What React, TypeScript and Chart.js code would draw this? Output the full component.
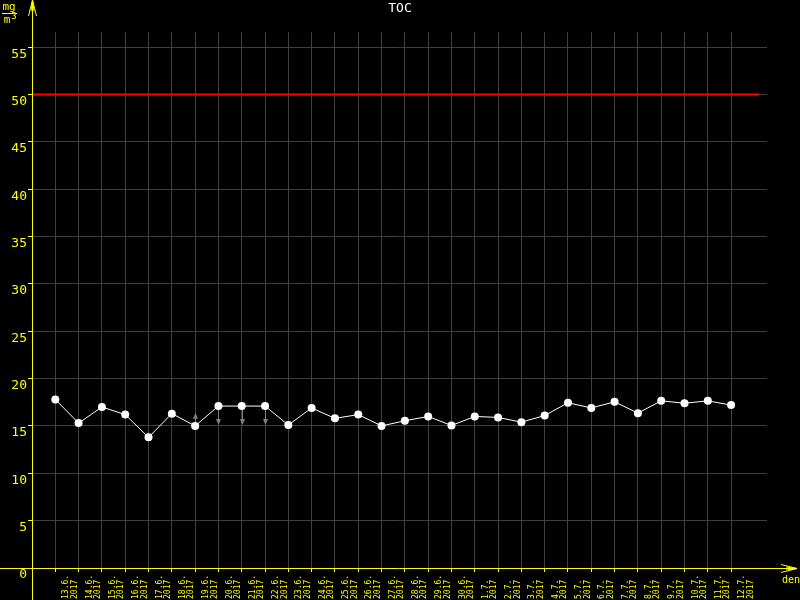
import React, { useEffect, useRef } from "react";
import { Chart, registerables } from "chart.js";

Chart.register(...registerables);

// ---- data ----
const dates = [
  "13.6.", "14.6.", "15.6.", "16.6.", "17.6.", "18.6.", "19.6.", "20.6.", "21.6.", "22.6.",
  "23.6.", "24.6.", "25.6.", "26.6.", "27.6.", "28.6.", "29.6.", "30.6.", "1.7.", "2.7.",
  "3.7.", "4.7.", "5.7.", "6.7.", "7.7.", "8.7.", "9.7.", "10.7.", "11.7.", "12.7.",
];
const year = "2017";
const tocValues = [
  17.8, 15.3, 17.0, 16.2, 13.8, 16.3, 15.0, 17.1, 17.1, 17.1,
  15.1, 16.9, 15.8, 16.2, 15.0, 15.55, 16.0, 15.05, 16.0, 15.9,
  15.4, 16.1, 17.45, 16.9, 17.55, 16.35, 17.65, 17.4, 17.65, 17.2,
];
const limitValue = 50;
const limitRange = [-1, 30.2];
const yTicks = [0, 5, 10, 15, 20, 25, 30, 35, 40, 45, 50, 55];
const arrowIndex = [6, 7, 8, 9];
const arrowTo = [16.4, 15.1, 15.1, 15.1];
const title = "TOC";
const xUnit = "den";

const YELLOW = "#ffff00";
const GRID = "#404040";
const MONO = "'DejaVu Sans Mono', monospace";

const decorPlugin = {
  id: "decor",
  beforeDraw(chart: any) {
    const ctx = chart.ctx;
    ctx.save();
    ctx.fillStyle = "#000";
    ctx.fillRect(0, 0, chart.width, chart.height);
    ctx.restore();
  },
  beforeDatasetsDraw(chart: any) {
    const ctx = chart.ctx;
    const xs = chart.scales.x;
    const ys = chart.scales.y;
    ctx.save();
    ctx.strokeStyle = "#808080";
    ctx.fillStyle = "#808080";
    ctx.lineWidth = 1;
    arrowIndex.forEach((idx, k) => {
      const x = Math.round(xs.getPixelForValue(idx)) + 0.5;
      const y0 = ys.getPixelForValue(tocValues[idx]);
      const y1 = ys.getPixelForValue(arrowTo[k]);
      const dir = y1 < y0 ? -1 : 1;
      ctx.beginPath();
      ctx.moveTo(x, y0);
      ctx.lineTo(x, y1 - dir * 5);
      ctx.stroke();
      ctx.beginPath();
      ctx.moveTo(x, y1);
      ctx.lineTo(x - 2.5, y1 - dir * 6);
      ctx.lineTo(x + 2.5, y1 - dir * 6);
      ctx.closePath();
      ctx.fill();
    });
    ctx.restore();
  },
  afterDraw(chart: any) {
    const ctx = chart.ctx;
    const xs = chart.scales.x;
    const ys = chart.scales.y;
    const ax = Math.round(chart.chartArea.left) + 0.5;
    const ay = Math.round(ys.getPixelForValue(0)) + 0.5;
    ctx.save();
    // axes
    ctx.strokeStyle = YELLOW;
    ctx.lineWidth = 1;
    ctx.beginPath();
    ctx.moveTo(ax, 0);
    ctx.lineTo(ax, chart.height);
    ctx.moveTo(0, ay);
    ctx.lineTo(chart.width - 3, ay);
    ctx.stroke();
    // y arrow
    ctx.beginPath();
    ctx.moveTo(ax, 0);
    ctx.lineTo(ax - 4, 16);
    ctx.moveTo(ax, 0);
    ctx.lineTo(ax + 4, 16);
    ctx.moveTo(ax, 0);
    ctx.lineTo(ax - 1.5, 11);
    ctx.moveTo(ax, 0);
    ctx.lineTo(ax + 1.5, 11);
    ctx.stroke();
    // x arrow
    const tipX = chart.width - 3;
    ctx.beginPath();
    ctx.moveTo(tipX, ay);
    ctx.lineTo(tipX - 16, ay - 4);
    ctx.moveTo(tipX, ay);
    ctx.lineTo(tipX - 16, ay + 4);
    ctx.moveTo(tipX, ay);
    ctx.lineTo(tipX - 11, ay - 1.5);
    ctx.moveTo(tipX, ay);
    ctx.lineTo(tipX - 11, ay + 1.5);
    ctx.stroke();

    // x labels
    ctx.fillStyle = YELLOW;
    ctx.font = `8px ${MONO}`;
    ctx.textAlign = "left";
    ctx.textBaseline = "middle";
    dates.forEach((d, i) => {
      const x = xs.getPixelForValue(i);
      ctx.save();
      ctx.translate(x, 599);
      ctx.rotate(-Math.PI / 2);
      ctx.fillText(d, 0, 11);
      ctx.fillText(year, 0, 19.5);
      ctx.restore();
    });

    // x unit
    ctx.font = `10px ${MONO}`;
    ctx.textAlign = "center";
    ctx.fillText(xUnit, 791, 580);

    // y unit mg/m3
    ctx.font = `11px ${MONO}`;
    ctx.textAlign = "center";
    ctx.textBaseline = "alphabetic";
    ctx.fillText("mg", 9, 10);
    ctx.beginPath();
    ctx.moveTo(2, 13.5);
    ctx.lineTo(17, 13.5);
    ctx.stroke();
    ctx.fillText("m", 7, 23);
    ctx.font = `9px ${MONO}`;
    ctx.fillText("3", 14, 19);

    // title
    ctx.fillStyle = "#ffffff";
    ctx.font = `13px ${MONO}`;
    ctx.textAlign = "center";
    ctx.textBaseline = "middle";
    ctx.fillText(title, 400, 8.5);
    ctx.restore();
  },
};

export default function App() {
  const ref = useRef<HTMLCanvasElement | null>(null);

  useEffect(() => {
    if (!ref.current) return;
    const chart = new Chart(ref.current, {
      type: "line",
      data: {
        datasets: [
          {
            label: "limit",
            data: limitRange.map((x) => ({ x, y: limitValue })),
            borderColor: "#ff0000",
            borderWidth: 2,
            pointRadius: 0,
            fill: false,
          },
          {
            label: title,
            data: tocValues.map((v, i) => ({ x: i, y: v })),
            borderColor: "#ffffff",
            borderWidth: 1,
            pointRadius: 4,
            pointBackgroundColor: "#ffffff",
            pointBorderWidth: 0,
            tension: 0,
            fill: false,
          },
        ],
      },
      options: {
        animation: false,
        responsive: false,
        maintainAspectRatio: false,
        layout: { padding: { top: 32, right: 33, left: 0, bottom: 0 } },
        plugins: {
          legend: { display: false },
          tooltip: { enabled: false },
          title: { display: false },
        },
        scales: {
          x: {
            type: "linear",
            min: -1,
            max: 30.54,
            afterBuildTicks: (s: any) => {
              s.ticks = dates.map((_, i) => ({ value: i }));
            },
            afterFit: (s: any) => {
              s.height = 32;
            },
            border: { display: false },
            grid: {
              color: GRID,
              lineWidth: 1,
              drawTicks: true,
              tickLength: 4,
              tickColor: YELLOW,
            },
            ticks: { display: false },
          },
          y: {
            type: "linear",
            min: 0,
            max: 56.6,
            afterBuildTicks: (s: any) => {
              s.ticks = yTicks.map((v) => ({ value: v }));
            },
            afterFit: (s: any) => {
              s.width = 32;
            },
            border: { display: false },
            grid: {
              color: (c: any) => (c.tick && c.tick.value === 0 ? "rgba(0,0,0,0)" : GRID),
              lineWidth: 1,
              drawTicks: true,
              tickLength: 4,
              tickColor: YELLOW,
            },
            ticks: {
              color: YELLOW,
              font: { family: MONO, size: 13 },
              padding: 1,
              labelOffset: 7,
            },
          },
        },
      },
      plugins: [decorPlugin],
    });
    return () => chart.destroy();
  }, []);

  return (
    <div style={{ position: "absolute", left: 0, top: 0, width: 800, height: 600, background: "#000" }}>
      <canvas ref={ref} width={800} height={600} style={{ display: "block" }} />
    </div>
  );
}
